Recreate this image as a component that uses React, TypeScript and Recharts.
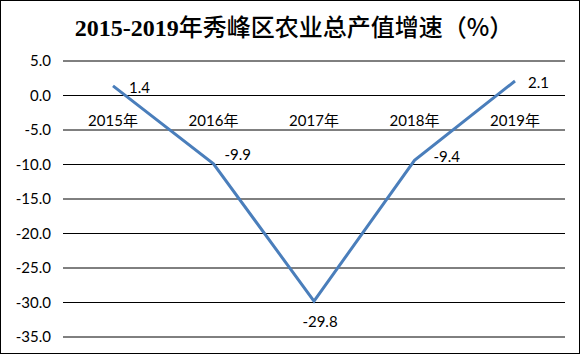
import { LineChart, Line, XAxis, YAxis, CartesianGrid, LabelList } from "recharts";

const years = ["2015年", "2016年", "2017年", "2018年", "2019年"];
const growth = [1.4, -9.9, -29.8, -9.4, 2.1];
const yTicks = [5, 0, -5, -10, -15, -20, -25, -30, -35];

// manual label nudges, same as the hand-placed labels in the source
const labelNudge = [
  { dx: 16, dy: 1 },
  { dx: 11, dy: -10 },
  { dx: 0, dy: 0 },
  { dx: 19, dy: -4 },
  { dx: 13, dy: 1 },
];

const chartData = years.map((year, i) => ({ year, value: growth[i], base: 0 }));

const labelFont = "Lato, 'Noto Sans CJK SC', sans-serif";

function ValueLabel(props: any) {
  const { x, y, value, index } = props;
  const text = Number(value).toFixed(1);
  if (index === 2) {
    return (
      <text x={x + 6} y={y + 20} textAnchor="middle" dominantBaseline="central" fontSize={15} fontFamily={labelFont} fill="#000">
        {text}
      </text>
    );
  }
  const n = labelNudge[index] ?? { dx: 12, dy: 0 };
  return (
    <text x={x + n.dx} y={y + n.dy} textAnchor="start" dominantBaseline="central" fontSize={15} fontFamily={labelFont} fill="#000">
      {text}
    </text>
  );
}

function CategoryLabel(props: any) {
  const { x, y, value } = props;
  return (
    <text x={x} y={y + 24} textAnchor="middle" dominantBaseline="central" fontSize={15} fontFamily={labelFont} fill="#000">
      {value}
    </text>
  );
}

export default function App() {
  return (
    <div style={{ position: "relative", width: 580, height: 356, background: "#fff" }}>
      <style>{"body{margin:0}"}</style>
      <div
        style={{
          position: "absolute",
          left: 0,
          top: 0,
          width: 580,
          height: 354,
          border: "1px solid #000",
          boxSizing: "border-box",
          pointerEvents: "none",
        }}
      />
      <div
        style={{
          position: "absolute",
          left: 4,
          top: 11,
          width: 580,
          textAlign: "center",
          fontFamily: "'Liberation Serif', 'Noto Sans CJK SC', serif",
          fontWeight: "bold",
          fontSize: 24,
          lineHeight: "30px",
          color: "#000",
        }}
      >
        2015-2019
        <span style={{ fontFamily: "'Noto Sans CJK SC', sans-serif", fontWeight: 500 }}>年秀峰区农业总产值增速（%）</span>
      </div>
      <LineChart width={580} height={356} data={chartData} margin={{ top: 61, right: 15, bottom: 19, left: 0 }}>
        <CartesianGrid horizontal vertical={false} stroke="#000" strokeWidth={1} strokeDasharray="" />
        <XAxis dataKey="year" hide height={0} padding={{ left: 50, right: 50 }} />
        <YAxis
          width={63}
          domain={[-35, 5]}
          ticks={yTicks}
          interval={0}
          axisLine={false}
          tickLine={false}
          tickMargin={6}
          tickFormatter={(v: number) => v.toFixed(1)}
          tick={{ fontSize: 15, fill: "#000", fontFamily: labelFont }}
        />
        {/* invisible baseline series that carries the category labels at y = 0 */}
        <Line dataKey="base" stroke="none" dot={false} isAnimationActive={false}>
          <LabelList dataKey="year" content={<CategoryLabel />} />
        </Line>
        <Line
          dataKey="value"
          type="linear"
          stroke="#4a7ebb"
          strokeWidth={3}
          dot={false}
          isAnimationActive={false}
        >
          <LabelList dataKey="value" content={<ValueLabel />} />
        </Line>
      </LineChart>
    </div>
  );
}
